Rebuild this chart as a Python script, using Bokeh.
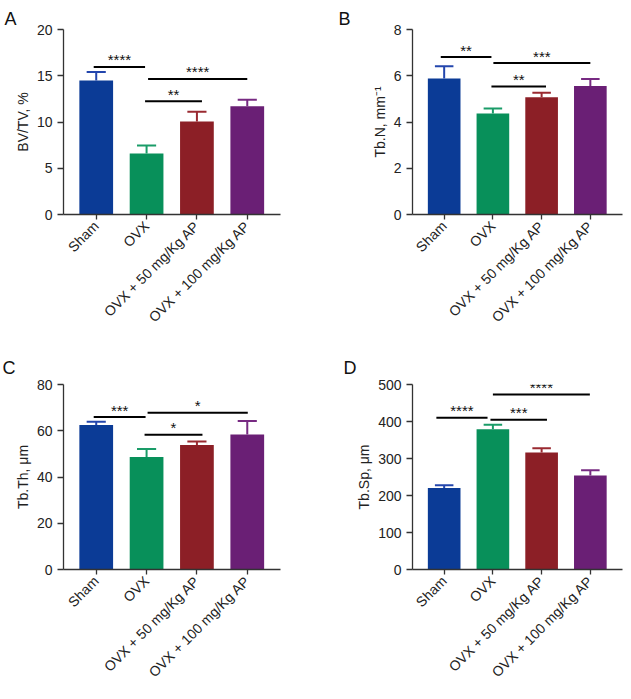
import math
from bokeh.plotting import figure
from bokeh.layouts import gridplot
from bokeh.models import Range1d, FixedTicker, ColumnDataSource
from bokeh.core.properties import value
from bokeh.embed import file_html
from bokeh.resources import INLINE

groups = ["Sham", "OVX", "OVX + 50 mg/Kg AP", "OVX + 100 mg/Kg AP"]

bvtv_mean = [14.5, 6.6, 10.05, 11.7]
bvtv_err = [0.9, 0.85, 1.05, 0.7]
bvtv_sig = [("****", -0.05, 0.97, 15.95), ("****", 1.03, 3.0, 14.65), ("**", 0.97, 2.1, 12.25)]

tbn_mean = [5.88, 4.37, 5.07, 5.56]
tbn_err = [0.53, 0.21, 0.2, 0.3]
tbn_sig = [("**", -0.07, 0.97, 6.81), ("***", 1.01, 3.0, 6.55), ("**", 0.97, 2.09, 5.53)]

tbth_mean = [62.5, 48.7, 53.8, 58.4]
tbth_err = [1.4, 3.4, 1.5, 5.8]
tbth_sig = [("***", -0.05, 0.98, 65.9), ("*", 1.02, 3.01, 67.8), ("*", 0.96, 2.11, 58.3)]

tbsp_mean = [220, 379, 316, 254]
tbsp_err = [8, 12, 12, 14]
tbsp_sig = [("****", -0.16, 0.89, 410), ("***", 0.95, 2.11, 405), ("****", 1.0, 2.99, 473)]

bar_colors = ["#0b3b96", "#08905a", "#8c1f26", "#6a1f75"]
err_colors = ["#2346ad", "#1a9c68", "#9a2a31", "#772a82"]

FONT = "Liberation Sans"
AXC = "#333333"


def panel(letter, ytitle, mean, err, sig, ymax, yticks, width, height,
          bl, br, bt, bb, lx, lstand):
    p = figure(width=width, height=height, output_backend="svg", toolbar_location=None,
               x_range=Range1d(-0.65, 3.66), y_range=Range1d(0, ymax),
               min_border_left=bl, min_border_right=br, min_border_top=bt, min_border_bottom=bb,
               title=letter)
    p.outline_line_color = None
    p.xgrid.grid_line_color = None
    p.ygrid.grid_line_color = None
    p.background_fill_color = "white"
    p.border_fill_color = "white"

    p.title.align = "left"
    p.title.offset = lx
    p.title.standoff = lstand
    p.title.text_font = FONT
    p.title.text_font_size = "18px"
    p.title.text_font_style = "normal"
    p.title.text_color = "#111111"

    xs = list(range(len(groups)))
    src = ColumnDataSource(dict(x=xs, top=mean, color=bar_colors,
                                up=[m + e for m, e in zip(mean, err)], ecolor=err_colors,
                                cl=[x - 0.19 for x in xs], cr=[x + 0.19 for x in xs]))
    p.vbar(x="x", top="top", bottom=0, width=0.67, fill_color="color", line_color=None, source=src)
    p.segment(x0="x", y0="top", x1="x", y1="up", line_color="ecolor", line_width=2, source=src)
    p.segment(x0="cl", y0="up", x1="cr", y1="up", line_color="ecolor", line_width=2, source=src)

    ssrc = ColumnDataSource(dict(t=[s[0] for s in sig], x0=[s[1] for s in sig], x1=[s[2] for s in sig],
                                 y=[s[3] for s in sig], xm=[(s[1] + s[2]) / 2 for s in sig]))
    p.segment(x0="x0", y0="y", x1="x1", y1="y", line_color="black", line_width=2, source=ssrc)
    p.text(x="xm", y="y", text="t", text_align="center", text_baseline="alphabetic", y_offset=-7,
           text_font=value(FONT), text_font_size="15px", text_color="#111111", source=ssrc)

    for ax in (p.xaxis[0], p.yaxis[0]):
        ax.axis_line_color = AXC
        ax.axis_line_width = 1.3
        ax.major_tick_line_color = AXC
        ax.major_tick_line_width = 1.3
        ax.major_tick_in = 0
        ax.major_tick_out = 6
        ax.minor_tick_line_color = None
        ax.major_label_text_font = FONT
        ax.major_label_text_font_size = "14px"
        ax.major_label_text_color = "#222222"
        ax.axis_label_text_font = FONT
        ax.axis_label_text_font_style = "normal"
        ax.axis_label_text_font_size = "14px"
        ax.axis_label_text_color = "#222222"

    p.yaxis.ticker = FixedTicker(ticks=yticks)
    p.yaxis.axis_label = ytitle
    p.yaxis.major_label_standoff = 5
    p.yaxis.axis_label_standoff = 3

    p.xaxis.ticker = FixedTicker(ticks=xs)
    p.xaxis.major_label_overrides = {i: g for i, g in enumerate(groups)}
    p.xaxis.major_label_orientation = math.pi / 4
    p.xaxis.major_tick_out = 5
    p.xaxis.major_label_standoff = 4
    return p


pA = panel("A", "BV/TV, %", bvtv_mean, bvtv_err, bvtv_sig, 20, [0, 5, 10, 15, 20],
           320, 348, 61, 40, 29, 134, -59, 1)
pB = panel("B", "Tb.N, mm\u207b\u00b9", tbn_mean, tbn_err, tbn_sig, 8, [0, 2, 4, 6, 8],
           310, 348, 92, 1, 29, 134, -74, 1)
pC = panel("C", "Tb.Th, \u03bcm", tbth_mean, tbth_err, tbth_sig, 80, [0, 20, 40, 60, 80],
           320, 345, 63, 40, 36, 124, -61, 13)
pD = panel("D", "Tb.Sp, \u03bcm", tbsp_mean, tbsp_err, tbsp_sig, 500, [0, 100, 200, 300, 400, 500],
           310, 345, 84, 8, 36, 124, -69, 13)

grid = gridplot([[pA, pB], [pC, pD]], toolbar_location=None)
open("out.html", "w").write(file_html(grid, INLINE))
